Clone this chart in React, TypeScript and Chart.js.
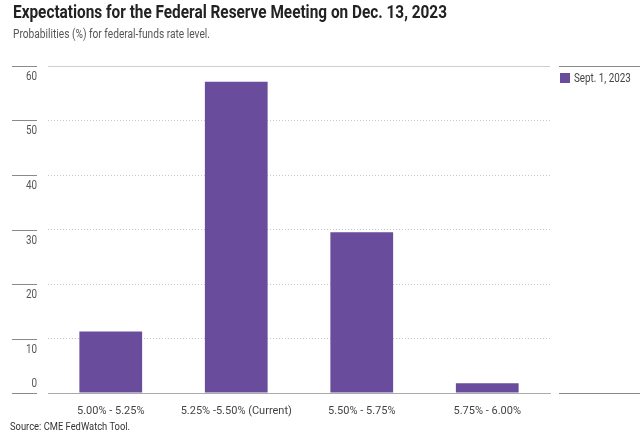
import React, { useEffect, useRef } from "react";
import { Chart, registerables } from "chart.js";

Chart.register(...registerables);

const categories = ["5.00% - 5.25%", "5.25% -5.50% (Current)", "5.50% - 5.75%", "5.75% - 6.00%"];
const seriesLabel = "Sept. 1, 2023";
const seriesValues = [11.3, 57.1, 29.5, 1.8];
const yTicks = [0, 10, 20, 30, 40, 50, 60];
const titleText = "Expectations for the Federal Reserve Meeting on Dec. 13, 2023";
const subtitleText = "Probabilities (%) for federal-funds rate level.";
const sourceText = "Source: CME FedWatch Tool.";

const FONT = "Roboto, 'Liberation Sans', sans-serif";
const BAR = "#6a4c9c";

function condensedText(ctx: any, text: string, x: number, y: number, sx: number) {
  ctx.save();
  ctx.translate(x, y);
  ctx.scale(sx, 1);
  ctx.fillText(text, 0, 0);
  ctx.restore();
}

const decor = {
  id: "decor",
  afterDraw(chart: any) {
    const { ctx, chartArea, scales } = chart;
    const y = scales.y;
    ctx.save();
    const yTop = y.getPixelForValue(60);
    ctx.strokeStyle = "#cfcfcf";
    ctx.lineWidth = 1;
    ctx.beginPath();
    ctx.moveTo(chartArea.left, Math.round(yTop) + 0.5);
    ctx.lineTo(chartArea.right, Math.round(yTop) + 0.5);
    ctx.stroke();
    ctx.font = `12px ${FONT}`;
    ctx.fillStyle = "#555";
    ctx.textAlign = "right";
    ctx.textBaseline = "middle";
    yTicks.forEach((v) => {
      const py = Math.round(y.getPixelForValue(v)) + 0.5;
      ctx.strokeStyle = "#8a8a8a";
      ctx.beginPath();
      ctx.moveTo(12, py);
      ctx.lineTo(37, py);
      ctx.stroke();
      const ty = v === 0 ? py - 10 : py + 10.5;
      condensedText(ctx, String(v), 37, ty, 0.82);
    });
    ctx.strokeStyle = "#8a8a8a";
    ctx.beginPath();
    ctx.moveTo(559, Math.round(yTop) + 0.5);
    ctx.lineTo(640, Math.round(yTop) + 0.5);
    const yBase = Math.round(y.getPixelForValue(0)) + 0.5;
    ctx.moveTo(559, yBase);
    ctx.lineTo(640, yBase);
    ctx.stroke();
    const ds = chart.data.datasets[0];
    ctx.fillStyle = ds.backgroundColor;
    ctx.fillRect(560, yTop + 7, 10, 10);
    ctx.fillStyle = "#444";
    ctx.textAlign = "left";
    condensedText(ctx, ds.label, 574, yTop + 12.5, 0.82);
    ctx.restore();
  },
};

function FitText(props: { text: string; width: number; style: any }) {
  const ref = useRef<HTMLSpanElement | null>(null);
  useEffect(() => {
    const el = ref.current;
    if (!el) return;
    el.style.transform = "none";
    const w = el.getBoundingClientRect().width;
    if (w > 0) el.style.transform = `scaleX(${props.width / w})`;
  }, [props.text, props.width]);
  return (
    <span ref={ref} style={{ ...props.style, position: "absolute", whiteSpace: "nowrap", transformOrigin: "0 0", display: "inline-block" }}>
      {props.text}
    </span>
  );
}

export default function App() {
  const ref = useRef<HTMLCanvasElement | null>(null);
  useEffect(() => {
    const chart = new Chart(ref.current as HTMLCanvasElement, {
      type: "bar",
      data: {
        labels: categories,
        datasets: [
          {
            label: seriesLabel,
            data: seriesValues,
            backgroundColor: BAR,
            barPercentage: 0.5,
            categoryPercentage: 1,
          },
        ],
      },
      options: {
        responsive: false,
        animation: false,
        layout: { padding: { left: 0, right: 90, top: 66, bottom: 0 } },
        plugins: { legend: { display: false }, tooltip: { enabled: false }, title: { display: false } },
        scales: {
          x: {
            grid: { display: false, drawTicks: false },
            border: { display: true, color: "#aaaaaa", width: 1 },
            ticks: { color: "#444", font: { family: FONT, size: 11 }, padding: 12, maxRotation: 0, autoSkip: false },
            afterFit: (s: any) => {
              s.height = 41;
            },
          },
          y: {
            min: 0,
            max: 60,
            ticks: { display: false, stepSize: 10 },
            grid: {
              drawTicks: false,
              color: (c: any) => (c.tick && (c.tick.value === 0 || c.tick.value === 60) ? "rgba(0,0,0,0)" : "#c8c8c8"),
            },
            border: { display: false, dash: [1, 2] },
            afterFit: (s: any) => {
              s.width = 48;
            },
          },
        },
      },
      plugins: [decor],
    });
    return () => chart.destroy();
  }, []);

  return (
    <div style={{ position: "fixed", left: 0, top: 0, width: 640, height: 434, background: "#fff", fontFamily: FONT }}>
      <canvas ref={ref} width={640} height={434} style={{ position: "absolute", left: 0, top: 0 }} />
      <FitText text={titleText} width={434} style={{ left: 13, top: 1, fontSize: 18, fontWeight: 700, color: "#222", lineHeight: "21px" }} />
      <FitText text={subtitleText} width={197} style={{ left: 13, top: 27, fontSize: 12, color: "#555", lineHeight: "14px" }} />
      <FitText text={sourceText} width={120} style={{ left: 10, top: 420, fontSize: 11, color: "#333", lineHeight: "13px" }} />
    </div>
  );
}
